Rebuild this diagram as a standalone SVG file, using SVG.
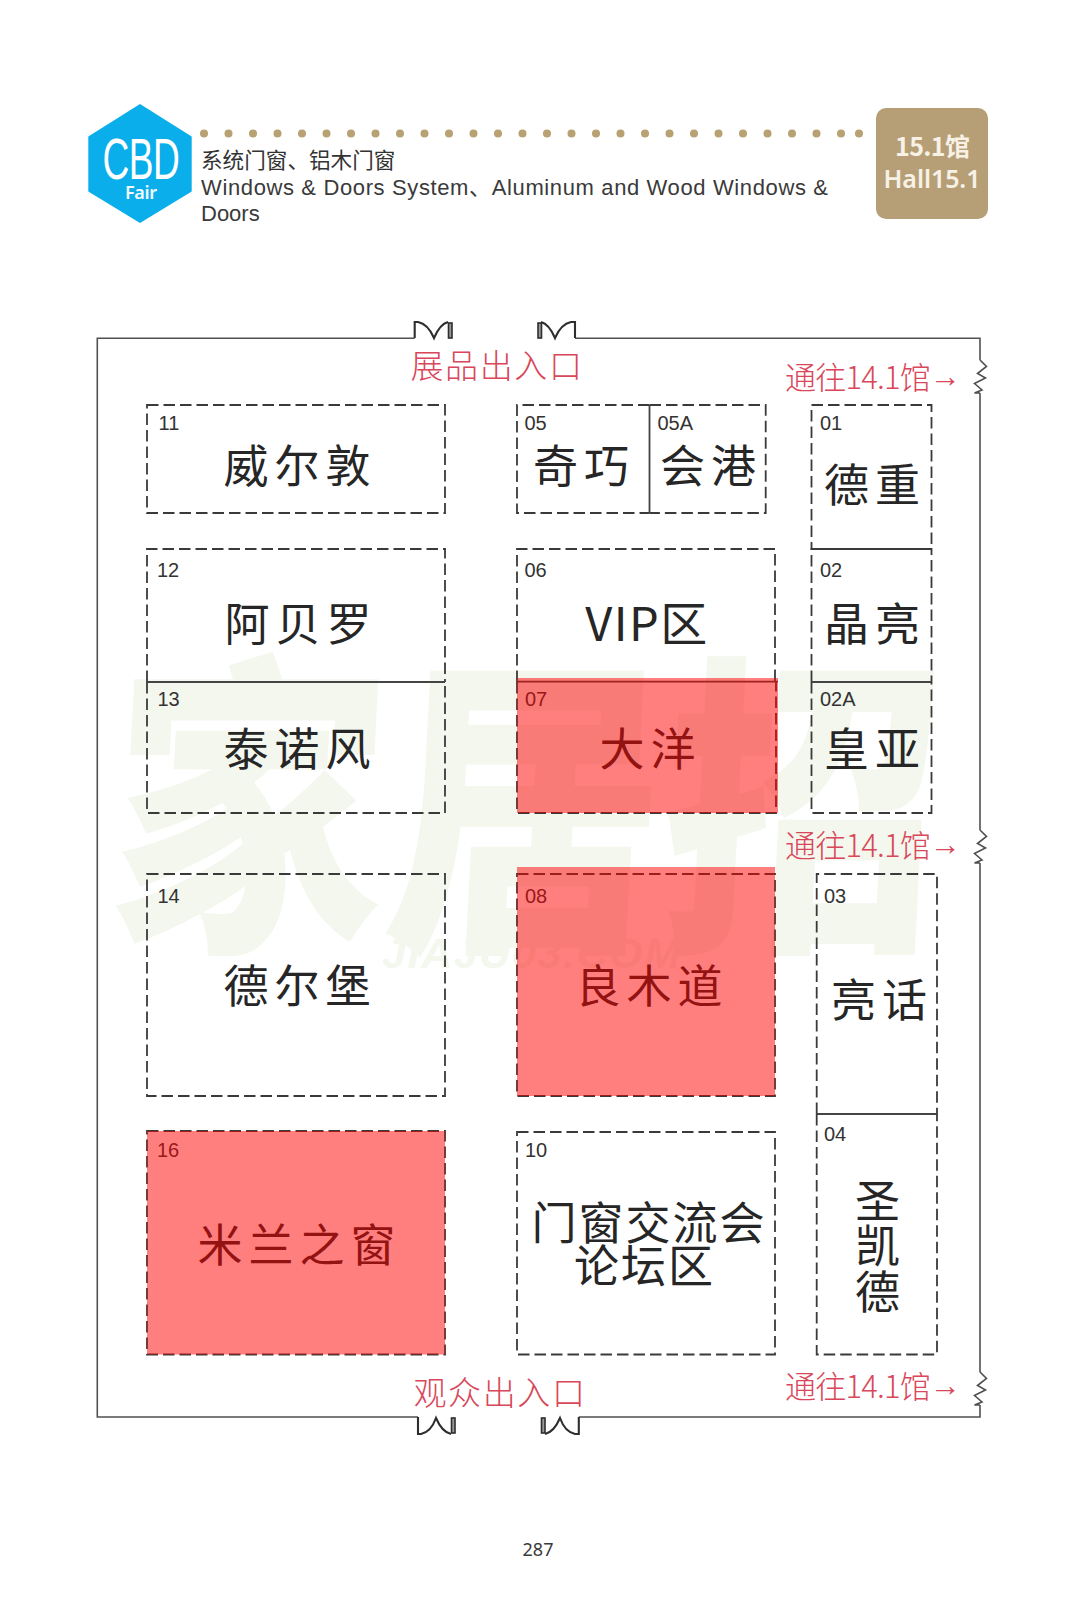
<svg xmlns="http://www.w3.org/2000/svg" width="1080" height="1603" viewBox="0 0 1080 1603">
<style>
text{font-family:"Noto Sans CJK SC","Noto Sans",sans-serif}
.box{fill:none;stroke:#3a3a3a;stroke-width:1.8;stroke-dasharray:11.5 5}
.solid{fill:none;stroke:#444;stroke-width:1.8}
.wall{fill:none;stroke:#505050;stroke-width:1.6}
.door{fill:none;stroke:#2e2e2e;stroke-width:2.1}
.leaf{fill:#999;stroke:#2e2e2e;stroke-width:1.6}
.num{font-family:"Liberation Sans",sans-serif;font-size:20px;fill:#333}
.lab{font-size:45px;fill:#262626;text-anchor:middle;letter-spacing:6px}
.red{font-size:33px;fill:#d9475a;font-weight:300;text-anchor:middle;letter-spacing:1.6px}
.to{font-size:31px;fill:#d9475a;font-weight:300;letter-spacing:-.8px}
.arr{font-family:"Liberation Sans",sans-serif;font-size:31px;letter-spacing:0}
.hot{fill:#ff0000;fill-opacity:.5}
.dot{fill:#b8a173}
.mark{fill:#f3f7ee}
</style>
<rect width="1080" height="1603" fill="#fff"/>
<g id="watermark">
<text class="mark" x="105" y="926" font-size="316" font-weight="900" textLength="830" lengthAdjust="spacingAndGlyphs" transform="skewX(-3) translate(48 0)">家居招</text>
<text class="mark" x="382" y="968" font-size="43" font-weight="700" font-style="italic" textLength="298" style="font-family:'Liberation Sans',sans-serif">JIAJU03.COM</text>
</g>
<g id="header">
<polygon points="140,104 191.7,136.5 191.7,191.5 140,223 88.3,191.5 88.3,136.5" fill="#0aaeea"/>
<text x="0" y="179" transform="translate(102.5 0) scale(.64 1)" font-size="58" fill="#fff" textLength="121" style="font-family:'Liberation Sans',sans-serif">CBD</text>
<text x="125" y="199" font-size="18" fill="#f2fafe" font-weight="600" textLength="32" style="font-family:'Noto Sans',sans-serif">Fair</text>
<g id="dots" class="dot">
<circle cx="204" cy="133.5" r="4"/><circle cx="228.5" cy="133.5" r="4"/><circle cx="253" cy="133.5" r="4"/><circle cx="277.5" cy="133.5" r="4"/><circle cx="302" cy="133.5" r="4"/><circle cx="326.5" cy="133.5" r="4"/><circle cx="351" cy="133.5" r="4"/><circle cx="375.5" cy="133.5" r="4"/><circle cx="400" cy="133.5" r="4"/><circle cx="424.5" cy="133.5" r="4"/><circle cx="449" cy="133.5" r="4"/><circle cx="473.5" cy="133.5" r="4"/><circle cx="498" cy="133.5" r="4"/><circle cx="522.5" cy="133.5" r="4"/><circle cx="547" cy="133.5" r="4"/><circle cx="571.5" cy="133.5" r="4"/><circle cx="596" cy="133.5" r="4"/><circle cx="620.5" cy="133.5" r="4"/><circle cx="645" cy="133.5" r="4"/><circle cx="669.5" cy="133.5" r="4"/><circle cx="694" cy="133.5" r="4"/><circle cx="718.5" cy="133.5" r="4"/><circle cx="743" cy="133.5" r="4"/><circle cx="767.5" cy="133.5" r="4"/><circle cx="792" cy="133.5" r="4"/><circle cx="816.5" cy="133.5" r="4"/><circle cx="841" cy="133.5" r="4"/><circle cx="859" cy="133.5" r="4"/>
</g>
<text x="201" y="167.5" font-size="21.6" fill="#333">系统门窗、铝木门窗</text>
<text x="201" y="195" font-size="22" fill="#3a3a3a" textLength="627" style="font-family:'Liberation Sans','Noto Sans CJK SC',sans-serif">Windows &amp; Doors System、Aluminum and Wood Windows &amp;</text>
<text x="201" y="221" font-size="22" fill="#3a3a3a" style="font-family:'Liberation Sans',sans-serif">Doors</text>
<rect x="876" y="108" width="112" height="111" rx="10" fill="#b69f76"/>
<text x="895" y="156" font-size="25" fill="#f7f1e6" font-weight="600" textLength="75">15.1馆</text>
<text x="883.5" y="188" font-size="25" fill="#f7f1e6" font-weight="600" textLength="97" style="font-family:'Noto Sans',sans-serif">Hall15.1</text>
</g>
<g id="walls">
<path class="wall" d="M414.7,338.3H97.3V1417H418M578.8,1417H980V1405M575,338.3H980V360M980,393V830M980,863V1372"/>
<path id="sq1" class="wall" d="M980,360L986.5,366.5L977.5,373.5L985.5,378L974.5,383.5L982,390L974.5,393H980"/>
<path id="sq2" class="wall" d="M980,830L986.5,836.5L977.5,843.5L985.5,848L974.5,853.5L982,860L974.5,863H980"/>
<path id="sq3" class="wall" d="M980,1372L986.5,1378.5L977.5,1385.5L985.5,1390L974.5,1395.5L982,1402L974.5,1405H980"/>
</g>
<g id="doors">
<path class="door" d="M414.7,338V322H418Q428,324 434,338Q440,324 448,322"/>
<rect class="leaf" x="448.5" y="323" width="3.5" height="15"/>
<path class="door" d="M575,338V322H571Q561,324 555,338Q549,324 541,322"/>
<rect class="leaf" x="538" y="323" width="3.5" height="15"/>
<path class="door" d="M418,1417V1434H421Q431,1432 436,1418Q442,1432 451,1434"/>
<rect class="leaf" x="451.5" y="1418" width="3.5" height="15"/>
<path class="door" d="M578.8,1417V1434H575Q565,1432 560,1418Q554,1432 545,1434"/>
<rect class="leaf" x="541.5" y="1418" width="3.5" height="15"/>
</g>
<g id="signs">
<text class="red" x="497" y="378">展品出入口</text>
<text class="red" x="500" y="1405">观众出入口</text>
<text class="to" x="785" y="389">通往14.1馆<tspan class="arr" x="930" y="387">→</tspan></text>
<text class="to" x="785" y="857">通往14.1馆<tspan class="arr" x="930" y="855">→</tspan></text>
<text class="to" x="785" y="1398">通往14.1馆<tspan class="arr" x="930" y="1396">→</tspan></text>
</g>
<g id="n11"><rect class="box" x="147" y="405" width="298" height="108"/><text class="num" x="158.5" y="429.5">11</text><text class="lab" x="300" y="482.5">威尔敦</text></g>
<g id="n05"><path class="box" d="M649.5,405H517V513H649.5"/><text class="num" x="524.5" y="429.5">05</text><text class="lab" x="584" y="482.5">奇巧</text></g>
<g id="n05A"><path class="box" d="M649.5,405H765.7V513H649.5"/><path class="solid" d="M649.5,405V513"/><text class="num" x="657.5" y="429.5">05A</text><text class="lab" x="711" y="482.5">会港</text></g>
<g id="n01"><rect class="box" x="811.5" y="405" width="120" height="144"/><text class="num" x="820" y="429.5">01</text><text class="lab" x="875" y="501.5">德重</text></g>
<g id="n12"><path class="box" d="M147,682V549H445V682"/><path class="solid" d="M147,682H445"/><text class="num" x="157" y="576.5">12</text><text class="lab" x="301" y="640.5">阿贝罗</text></g>
<g id="n13"><path class="box" d="M147,682V813H445V682"/><text class="num" x="157.5" y="706">13</text><text class="lab" x="300" y="765.5">泰诺风</text></g>
<g id="n06"><path class="box" d="M517,682V549H775V682"/><text class="num" x="524.5" y="576.5">06</text><text x="647" y="640.5" font-size="47" fill="#262626" text-anchor="middle" style="letter-spacing:1.5px">VIP区</text></g>
<g id="n07"><path class="solid" d="M517,681.7H778"/><path class="box" d="M517,682V813H776V682"/><text class="num" x="525" y="706">07</text><text class="lab" x="650.5" y="765.5">大洋</text><rect class="hot" x="517" y="678" width="261" height="135"/></g>
<g id="n02"><path class="box" d="M811.5,682V549H931.5V682"/><path class="solid" d="M811.5,682H931.5"/><text class="num" x="820" y="576.5">02</text><text class="lab" x="875" y="640.5">晶亮</text></g>
<g id="n02A"><path class="box" d="M811.5,682V813H931.5V682"/><text class="num" x="820" y="706">02A</text><text class="lab" x="875" y="765.5">皇亚</text></g>
<g id="n14"><rect class="box" x="147" y="874" width="298" height="222"/><text class="num" x="157.5" y="903">14</text><text class="lab" x="300" y="1002.5">德尔堡</text></g>
<g id="n08"><rect class="box" x="517" y="874" width="258" height="222"/><text class="num" x="525" y="903">08</text><text class="lab" x="652" y="1002.5">良木道</text><rect class="hot" x="517" y="867" width="258" height="229"/></g>
<g id="n03"><path class="box" d="M816.7,1114V874H937V1114"/><path class="solid" d="M816.7,1114H937"/><text class="num" x="824" y="903">03</text><text class="lab" x="882" y="1016.5">亮话</text></g>
<g id="n04"><path class="box" d="M816.7,1114V1354.5H937V1114"/><text class="num" x="824" y="1141">04</text><text class="lab" x="877.5" y="1218" style="letter-spacing:0">圣</text><text class="lab" x="877.5" y="1263" style="letter-spacing:0">凯</text><text class="lab" x="877.5" y="1309" style="letter-spacing:0">德</text></g>
<g id="n16"><rect class="box" x="147" y="1131" width="298" height="223.5"/><text class="num" x="157" y="1157">16</text><text class="lab" x="299.5" y="1261.5">米兰之窗</text><rect class="hot" x="147" y="1131" width="298" height="223.5"/></g>
<g id="n10"><rect class="box" x="517" y="1132" width="258" height="222.5"/><text class="num" x="525" y="1157">10</text><text class="lab" x="649" y="1239.5" style="letter-spacing:2px">门窗交流会</text><text class="lab" x="644.5" y="1282.5" style="letter-spacing:2px">论坛区</text></g>
<text x="538" y="1556" font-size="18" fill="#3a3a3a" text-anchor="middle" style="font-family:'Noto Sans',sans-serif">287</text>
</svg>
